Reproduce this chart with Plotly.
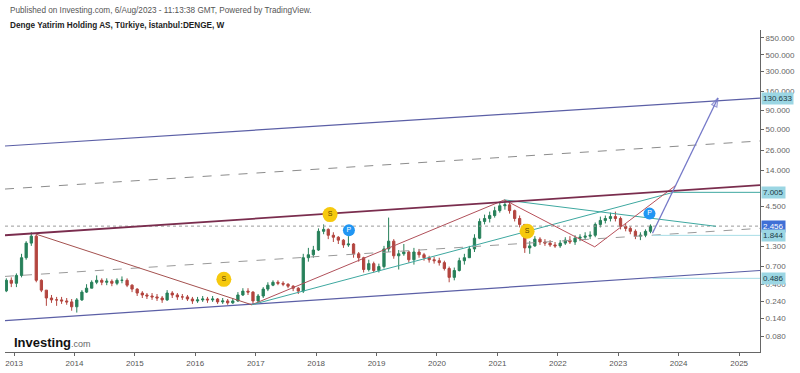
import numpy as np
import pandas as pd
import plotly.graph_objects as go

# ---------------- data ----------------
candle_dates = pd.date_range("2012-11-01", periods=129, freq="MS") + pd.Timedelta(days=14)
first_open = 0.33
close = [
    .457, .417, .532, .921, 1.45, 1.80, .457, .337, .264, .249, .249, .241, .234, .201,
    .249, .317, .358, .430, .457, .430, .444, .417, .457, .457, .393, .348,
    .308, .290, .281, .273, .264, .249, .308, .290, .273, .273, .256, .241,
    .249, .256, .249, .256, .234, .241, .227, .241, .290, .327, .317, .241,
    .281, .348, .393, .430, .417, .405, .381, .358, .327, .921, 1.01, 1.17,
    2.09, 2.22, 1.85, 1.74, 1.59, 1.37, 1.41, 1.04, .921, .639, .767, .620,
    .700, 1.21, 1.54, .978, 1.04, 1.10, .866, 1.10, 1.01, .921, .866, .840,
    .791, .659, .501, .620, .840, .921, 1.21, 1.69, 2.84, 3.11, 3.41, 3.97,
    4.62, 4.76, 3.97, 3.11, 2.59, 1.25, 1.33, 1.64, 1.50, 1.45, 1.37, 1.33,
    1.45, 1.59, 1.50, 1.69, 1.74, 1.80, 1.85, 2.59, 2.93, 3.11, 3.30, 3.11,
    2.44, 2.29, 2.09, 1.80, 1.85, 2.09, 2.456,
]
high = [
    .486, .501, .566, 1.04, 1.54, 2.03, 1.91, .471, .337, .290, .273, .273, .264, .256,
    .264, .337, .405, .457, .532, .486, .486, .471, .486, .516, .486, .405,
    .358, .327, .308, .308, .299, .281, .337, .327, .308, .299, .290, .273,
    .273, .281, .273, .281, .264, .264, .256, .264, .317, .358, .358, .327,
    .299, .370, .430, .457, .457, .444, .417, .393, .370, 1.04, 1.25, 1.33,
    2.29, 2.59, 2.29, 2.03, 1.80, 1.64, 1.80, 1.45, 1.10, .949, .866, .815,
    .767, 1.33, 3.20, 1.64, 1.17, 1.41, 1.14, 1.25, 1.21, 1.07, .978, .949,
    .921, .840, .700, .679, .921, 1.04, 1.33, 1.91, 3.11, 3.51, 3.85, 4.48,
    5.06, 5.54, 5.06, 4.09, 3.41, 2.59, 1.54, 1.80, 1.74, 1.64, 1.59, 1.50,
    1.59, 1.74, 1.80, 1.85, 1.91, 2.03, 2.09, 2.75, 3.30, 3.41, 3.73, 3.85,
    3.30, 2.67, 2.44, 2.22, 2.03, 2.22, 2.59,
]
low = [
    .317, .370, .370, .501, .866, 1.33, .430, .317, .207, .227, .207, .220, .214, .178,
    .168, .241, .308, .358, .405, .393, .393, .381, .393, .417, .370, .317,
    .281, .264, .256, .249, .241, .227, .241, .264, .249, .249, .241, .220,
    .227, .234, .227, .234, .220, .220, .214, .220, .234, .281, .290, .214,
    .227, .264, .327, .381, .393, .381, .358, .327, .299, .308, .815, .921,
    1.14, 1.91, 1.64, 1.50, 1.41, 1.25, 1.29, .921, .815, .583, .601, .583,
    .583, .659, 1.10, .893, .639, .978, .791, .744, .921, .840, .791, .767,
    .722, .620, .430, .457, .601, .744, .921, 1.10, 1.64, 2.59, 2.75, 3.20,
    3.73, 4.09, 3.62, 2.84, 2.36, 1.07, 1.04, 1.29, 1.37, 1.33, 1.29, 1.25,
    1.25, 1.37, 1.41, 1.37, 1.54, 1.59, 1.64, 1.74, 2.36, 2.67, 2.84, 2.84,
    2.22, 2.09, 1.91, 1.64, 1.59, 1.74, 1.97,
]
open_ = [first_open] + close[:-1]

# channel drawings (start / end)
chan_dates = ["2012-11-07", "2025-05-07"]
upper_top = [29.5, 130.633]
upper_mid = [7.76, 34.5]
upper_bottom = [1.85, 8.77]
lower_mid = [0.516, 2.293]
lower_bottom = [0.131, 0.620]

# trend-line drawings
red_down_dates, red_down_vals = ["2013-05-15", "2016-12-08"], [1.91, 0.214]
red_up_dates, red_up_vals = ["2016-12-08", "2021-02-12"], [0.214, 5.54]
teal_up_dates, teal_up_vals = ["2016-12-08", "2023-11-30", "2025-05-07"], [0.214, 7.005, 7.005]
teal_down_dates, teal_down_vals = ["2021-02-12", "2024-08-14"], [5.54, 2.44]
zig_dates, zig_vals = ["2021-02-12", "2022-08-12", "2023-12-17"], [5.54, 1.29, 8.77]
arrow_dates, arrow_vals = ["2023-07-27", "2024-08-26"], [1.97, 130.633]
level_dates = ["2023-07-27", "2025-05-07"]
level_a, level_b = 1.844, 0.486
last_price = 2.456

# event markers
s_dates, s_vals = ["2016-06-22", "2018-03-26", "2021-06-29"], [0.471, 3.51, 2.09]
p_dates, p_vals = ["2018-07-18", "2023-07-09"], [2.16, 3.62]

# axis labels
y_ticks = [850, 500, 300, 160, 90, 50, 26, 14, 4.5, 1.3, 0.7, 0.4, 0.24, 0.14, 0.08]
y_ticktext = ["850.000", "500.000", "300.000", "160.000", "90.000", "50.000", "26.000",
              "14.000", "4.500", "1.300", "0.700", "0.400", "0.240", "0.140", "0.080"]
price_boxes = [("130.633", 130.633, "#9bd6e3", "#1d3b45"),
               ("7.005", 7.005, "#9bd6e3", "#1d3b45"),
               ("2.456", 2.456, "#3f6fd6", "#ffffff"),
               ("1.844", 1.844, "#9bd6e3", "#1d3b45"),
               ("0.486", 0.486, "#9bd6e3", "#1d3b45")]

FONT = "Liberation Sans, Arial, sans-serif"

fig = go.Figure()

def line(xs, ys, color, width=1, dash="solid"):
    fig.add_trace(go.Scatter(x=xs, y=ys, mode="lines",
                             line=dict(color=color, width=width, dash=dash),
                             hoverinfo="skip", showlegend=False))

# channels
line(chan_dates, upper_top, "#5b5fa6", 1.2)
line(chan_dates, upper_mid, "#8c8c8c", 1, "dash")
line(chan_dates, lower_mid, "#9a9a9a", 1, "dash")
line(chan_dates, lower_bottom, "#5b5fa6", 1.2)
line(chan_dates, [last_price, last_price], "#9a9a9a", 1, "dot")
line(level_dates, [level_a, level_a], "#a8dde6", 1)
line(level_dates, [level_b, level_b], "#a8dde6", 1)

# trend lines
line(red_down_dates, red_down_vals, "#a4514f", 1)
line(red_up_dates, red_up_vals, "#b0505a", 1)
line(teal_up_dates, teal_up_vals, "#3ea8a0", 1)
line(teal_down_dates, teal_down_vals, "#3ea8a0", 1)
line(zig_dates, zig_vals, "#b8505a", 1)
line(chan_dates, upper_bottom, "#7a2d4e", 1.8)

# candles
fig.add_trace(go.Candlestick(
    x=candle_dates, open=open_, high=high, low=low, close=close,
    increasing=dict(line=dict(color="#27805a", width=1), fillcolor="#27805a"),
    decreasing=dict(line=dict(color="#b3453f", width=1), fillcolor="#b3453f"),
    whiskerwidth=0, hoverinfo="skip", showlegend=False))

# arrow
fig.add_trace(go.Scatter(
    x=arrow_dates, y=arrow_vals, mode="lines+markers",
    line=dict(color="#7478c8", width=1.3),
    marker=dict(symbol=["circle", "arrow-open"], size=[0, 9], angleref="previous",
                color="#7478c8", line=dict(color="#7478c8", width=1.3)),
    hoverinfo="skip", showlegend=False))

# event markers
fig.add_trace(go.Scatter(
    x=s_dates, y=s_vals, mode="markers+text", text=["S"] * len(s_dates),
    textposition="middle center",
    textfont=dict(family=FONT, size=7, color="#5c4300"),
    marker=dict(size=15, color="#f6c90e", line=dict(width=0)),
    hoverinfo="skip", showlegend=False))
fig.add_trace(go.Scatter(
    x=p_dates, y=p_vals, mode="markers+text", text=["P"] * len(p_dates),
    textposition="middle center",
    textfont=dict(family=FONT, size=7, color="#ffffff"),
    marker=dict(size=12, color="#2196f3", line=dict(width=0)),
    hoverinfo="skip", showlegend=False))

annotations = []
for txt, val, bg, fg in price_boxes:
    annotations.append(dict(x=1.0, xref="paper", y=np.log10(val), yref="y",
                            text=txt, showarrow=False, xanchor="left", yanchor="middle",
                            xshift=1, bgcolor=bg, borderpad=1,
                            font=dict(family=FONT, size=8, color=fg)))

annotations += [
    dict(x=0.004, y=1.062, xref="paper", yref="paper", xanchor="left", yanchor="middle",
         showarrow=False,
         text="Published on Investing.com, 6/Aug/2023 - 11:13:38 GMT, Powered by TradingView.",
         font=dict(family=FONT, size=8.2, color="#555555")),
    dict(x=0.004, y=1.015, xref="paper", yref="paper", xanchor="left", yanchor="middle",
         showarrow=False,
         text="<b>Denge Yatirim Holding AS, Türkiye, İstanbul:DENGE, W</b>",
         font=dict(family=FONT, size=8.2, color="#222222")),
    dict(x=0.009, y=0.03, xref="paper", yref="paper", xanchor="left", yanchor="middle",
         showarrow=False,
         text="<b>Investing</b><span style='font-size:9px;color:#666666'>.com</span>",
         font=dict(family=FONT, size=13, color="#111111")),
]

fig.update_layout(
    width=800, height=373,
    margin=dict(l=5, r=36, t=30, b=15),
    paper_bgcolor="white", plot_bgcolor="white",
    showlegend=False, hovermode=False,
    annotations=annotations,
    xaxis=dict(type="date", range=["2012-11-07", "2025-05-07"],
               rangeslider=dict(visible=False),
               showgrid=False, zeroline=False,
               showline=True, linecolor="#666666", linewidth=1,
               ticks="outside", ticklen=3, tickcolor="#666666",
               tick0="2013-01-01", dtick="M12", tickformat="%Y",
               tickfont=dict(family=FONT, size=8, color="#555555")),
    yaxis=dict(type="log", side="right", range=[-1.306, 3.033],
               showgrid=False, zeroline=False,
               showline=True, linecolor="#666666", linewidth=1,
               ticks="outside", ticklen=3, tickcolor="#666666",
               tickvals=y_ticks, ticktext=y_ticktext,
               tickfont=dict(family=FONT, size=8, color="#666666")),
)

fig.write_html("out.html", config={"displayModeBar": False},
               post_script="document.body.style.margin='0';document.body.style.overflow='hidden';")
